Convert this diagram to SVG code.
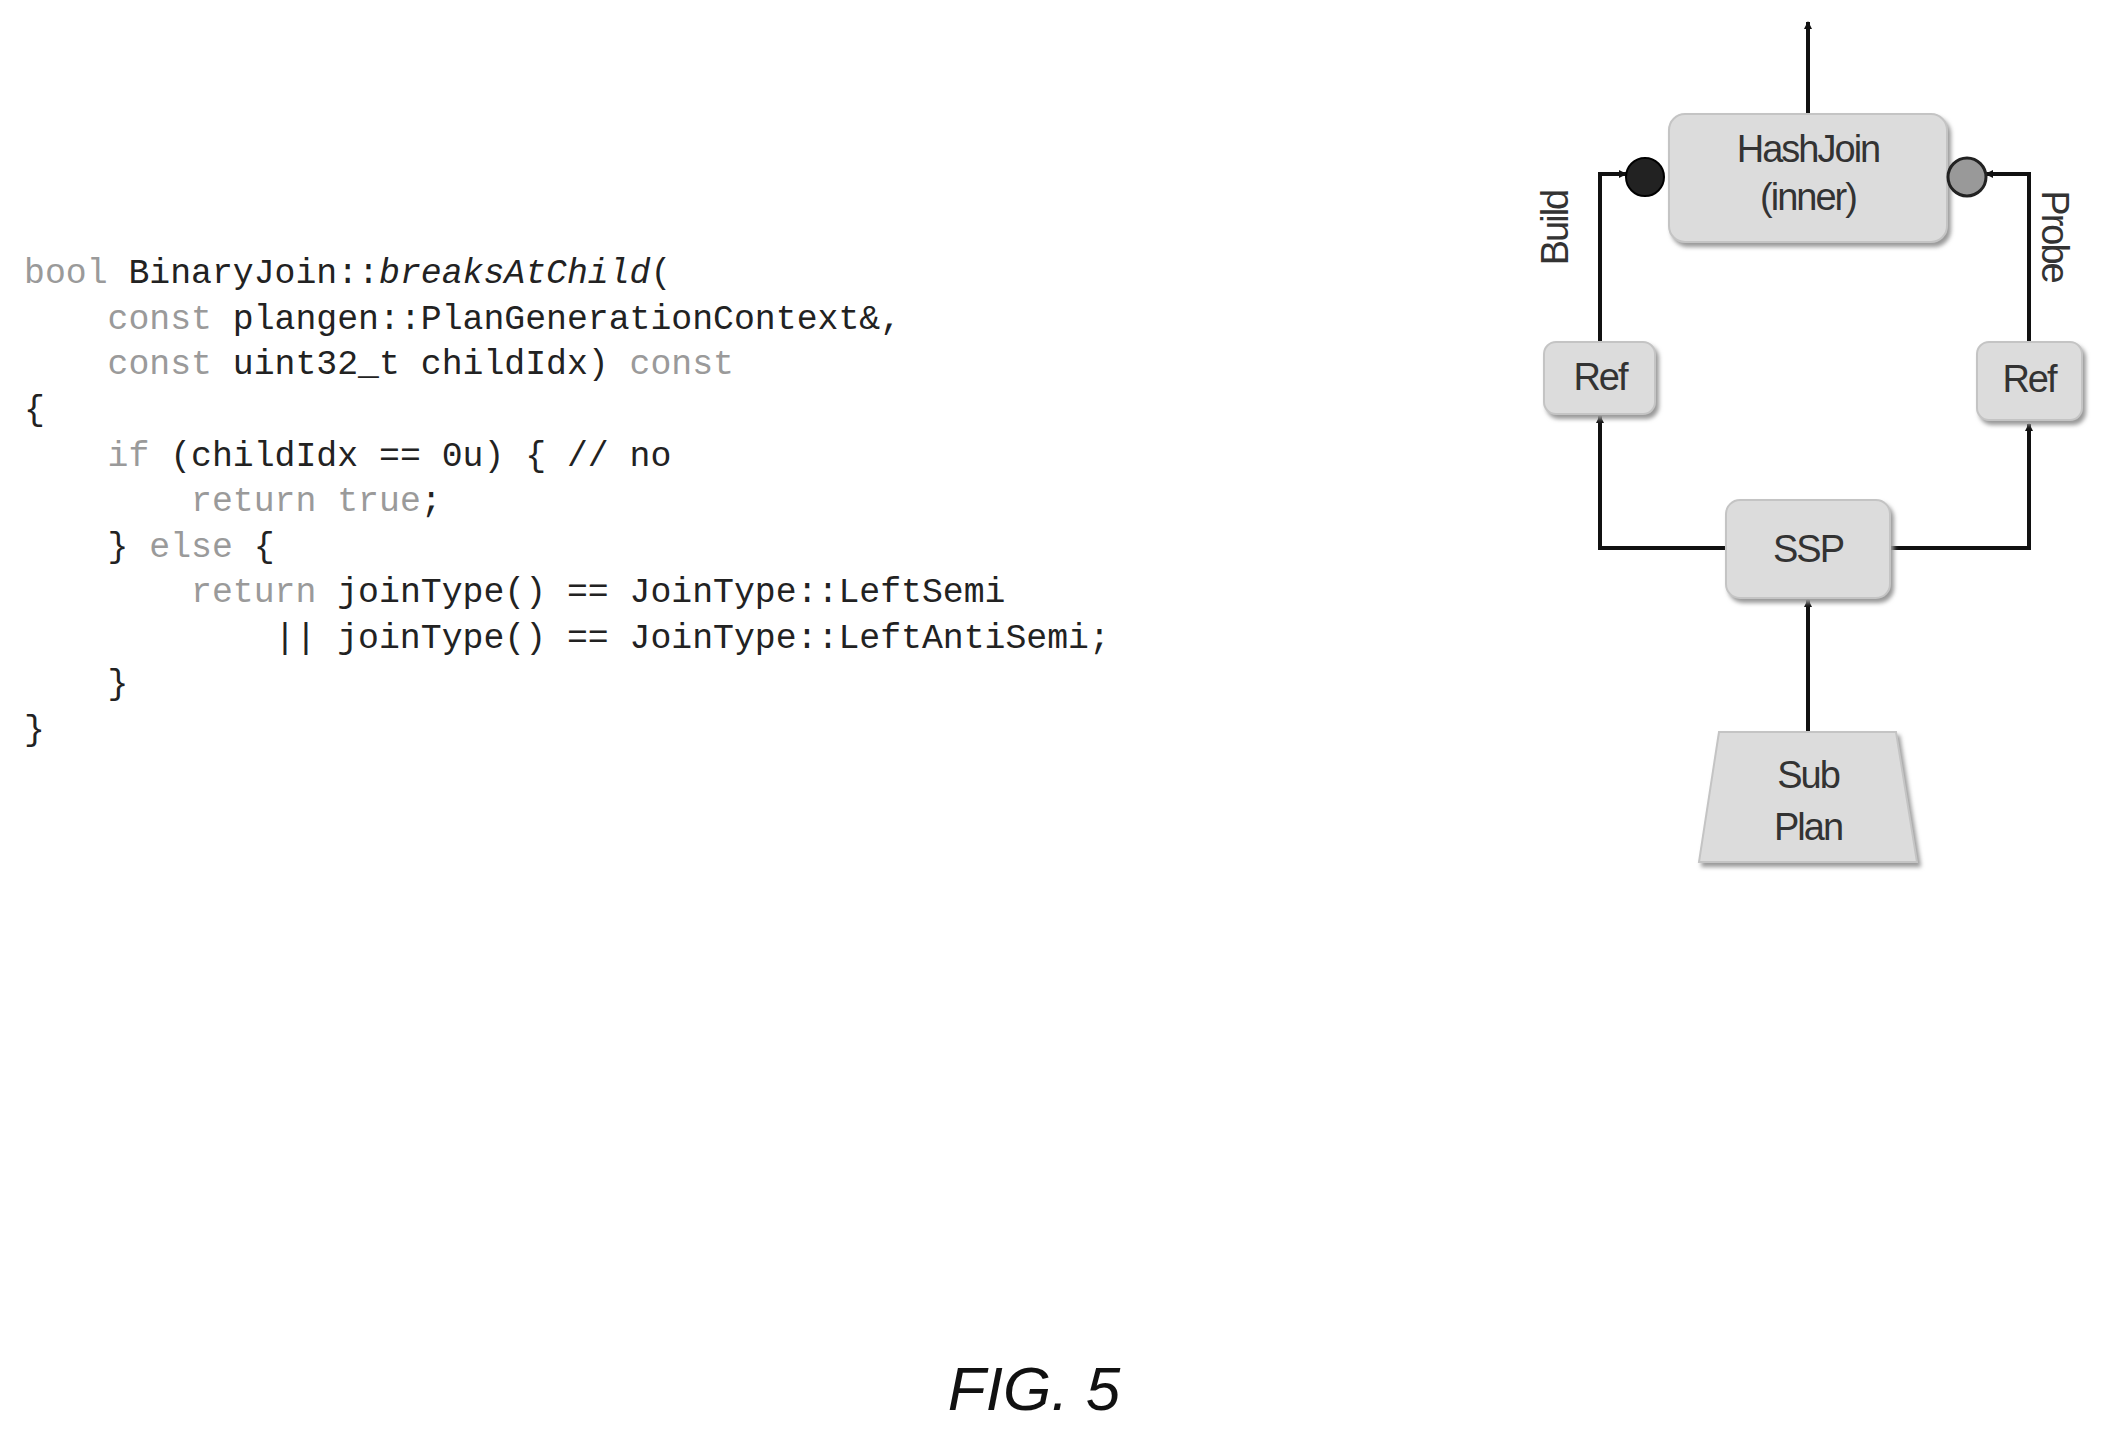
<svg xmlns="http://www.w3.org/2000/svg" width="2106" height="1435" viewBox="0 0 2106 1435">
<style>
.code{font-family:"Liberation Mono",monospace;font-size:34.8px;fill:#222}
.kw{fill:#9a9a9a}
.node{fill:#dcdcdc;stroke:#c4c4c4;stroke-width:2}
.lbl{font-family:"Liberation Sans",Arial,sans-serif;font-size:38px;fill:#333;text-anchor:middle;letter-spacing:-2px}
.edge{stroke:#111;stroke-width:4;fill:none;marker-end:url(#ah)}
</style>
<defs>
<marker id="ah" markerWidth="8" markerHeight="8" refX="7" refY="4" orient="auto" markerUnits="userSpaceOnUse"><path d="M0,0 L8,4 L0,8 z" fill="#111"/></marker>
<filter id="sh" x="-10%" y="-10%" width="130%" height="130%"><feDropShadow dx="3" dy="4" stdDeviation="2" flood-color="#999"/></filter>
</defs>
<rect width="2106" height="1435" fill="#fff"/>
<g id="code">
<text class="code" x="24" y="283"><tspan class="kw">bool</tspan> BinaryJoin::<tspan font-style="italic">breaksAtChild</tspan>(</text>
<text class="code" x="24" y="329" xml:space="preserve">    <tspan class="kw">const</tspan> plangen::PlanGenerationContext&amp;,</text>
<text class="code" x="24" y="374" xml:space="preserve">    <tspan class="kw">const</tspan> uint32_t childIdx) <tspan class="kw">const</tspan></text>
<text class="code" x="24" y="420">{</text>
<text class="code" x="24" y="466" xml:space="preserve">    <tspan class="kw">if</tspan> (childIdx == 0u) { // no</text>
<text class="code" x="24" y="511" xml:space="preserve">        <tspan class="kw">return true</tspan>;</text>
<text class="code" x="24" y="557" xml:space="preserve">    } <tspan class="kw">else</tspan> {</text>
<text class="code" x="24" y="602" xml:space="preserve">        <tspan class="kw">return</tspan> joinType() == JoinType::LeftSemi</text>
<text class="code" x="24" y="648" xml:space="preserve">            || joinType() == JoinType::LeftAntiSemi;</text>
<text class="code" x="24" y="694" xml:space="preserve">    }</text>
<text class="code" x="24" y="740">}</text>
</g>
<g id="connectors">
<path class="edge" d="M1808,114 L1808,22"/>
<path class="edge" d="M1600,342 L1600,174 L1626,174"/>
<path class="edge" d="M2029,342 L2029,174 L1986,174"/>
<path class="edge" d="M1726,548 L1600,548 L1600,416"/>
<path class="edge" d="M1890,548 L2029,548 L2029,424"/>
<path class="edge" d="M1808,732 L1808,600"/>
</g>
<g id="hashjoin"><rect class="node" filter="url(#sh)" x="1669" y="114" width="278" height="128" rx="16"/>
<text class="lbl" x="1808" y="162">HashJoin</text><text class="lbl" x="1808" y="210">(inner)</text></g>
<g id="buildport"><circle cx="1645" cy="177" r="19" fill="#222" stroke="#000" stroke-width="2"/></g>
<g id="probeport"><circle cx="1967" cy="177" r="19" fill="#999" stroke="#222" stroke-width="3"/></g>
<g id="refL"><rect class="node" filter="url(#sh)" x="1544" y="342" width="111" height="72" rx="12"/><text class="lbl" x="1600" y="390">Ref</text></g>
<g id="refR"><rect class="node" filter="url(#sh)" x="1977" y="342" width="105" height="78" rx="12"/><text class="lbl" x="2029" y="392">Ref</text></g>
<g id="ssp"><rect class="node" filter="url(#sh)" x="1726" y="500" width="164" height="98" rx="14"/><text class="lbl" x="1808" y="562">SSP</text></g>
<g id="subplan"><path class="node" filter="url(#sh)" d="M1719,732 L1896,732 L1917,862 L1699,862 Z"/>
<text class="lbl" x="1808" y="788">Sub</text><text class="lbl" x="1808" y="840">Plan</text></g>
<text class="lbl" transform="translate(1568,228) rotate(-90)">Build</text>
<text class="lbl" transform="translate(2042,236) rotate(90)" letter-spacing="1">Probe</text>
<text x="1034" y="1410" font-family="Liberation Sans,Arial,sans-serif" font-size="62" font-style="italic" text-anchor="middle" fill="#111">FIG. 5</text>
</svg>
